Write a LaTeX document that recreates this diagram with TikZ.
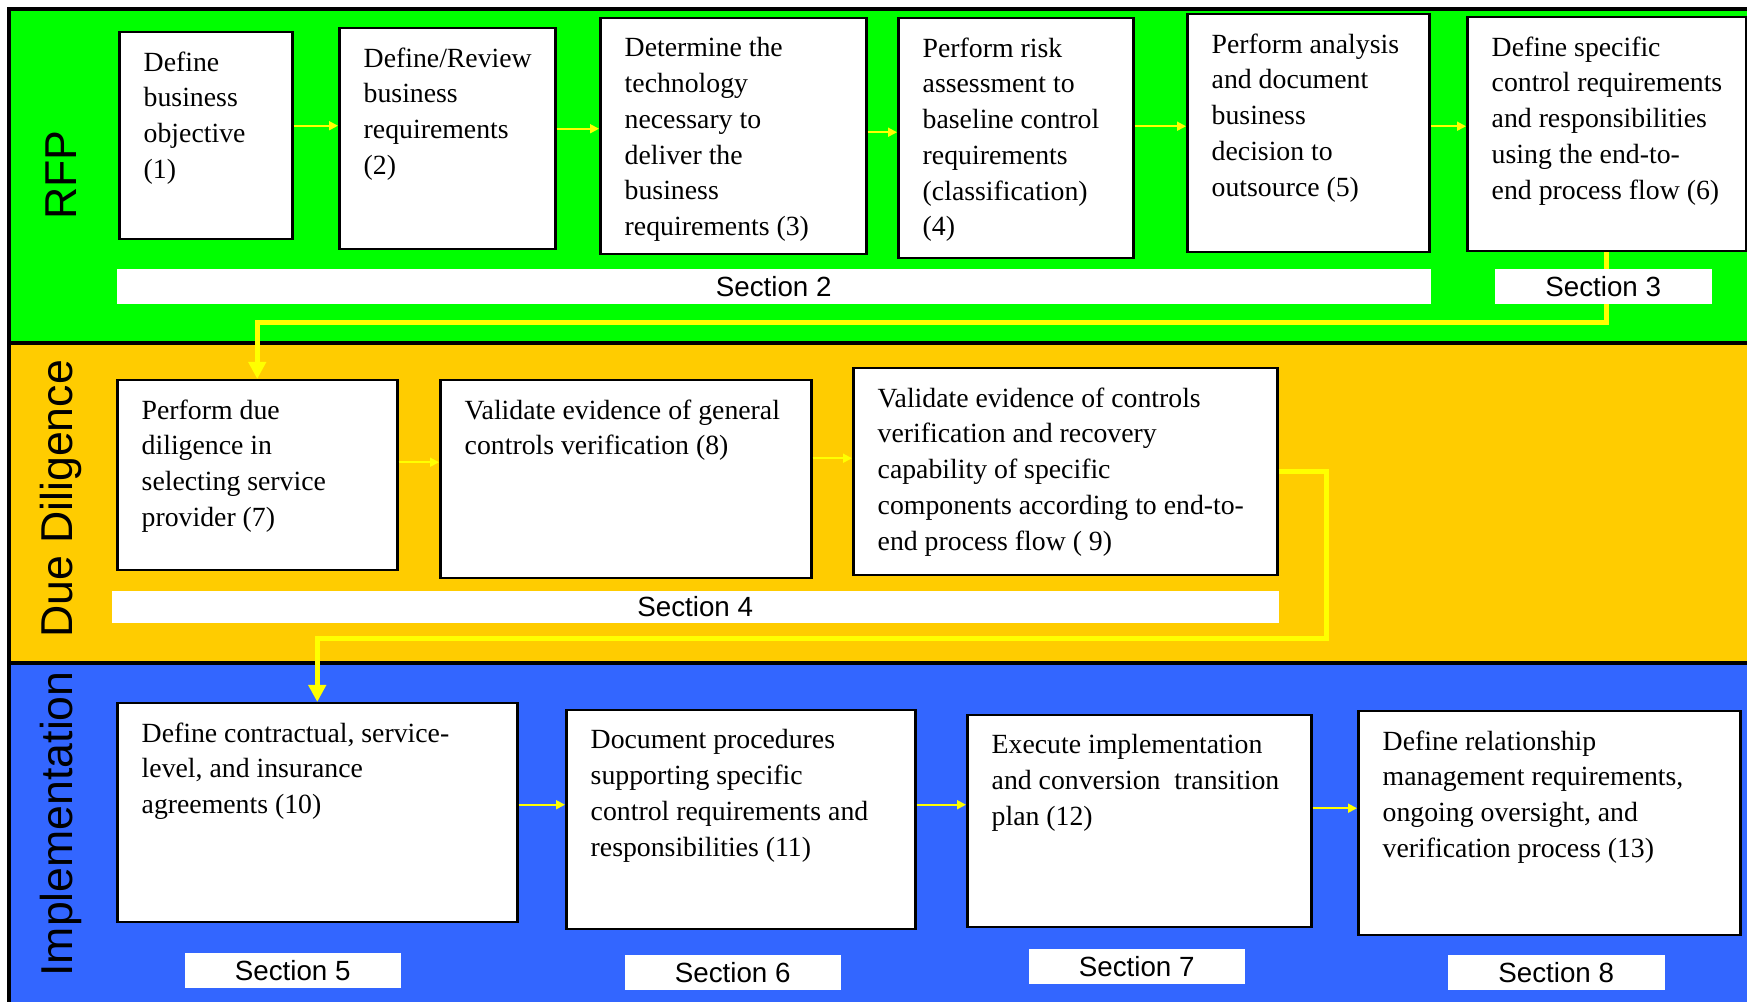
\documentclass[tikz,border=0pt]{standalone}
\usepackage{fontspec}
\setmainfont{Liberation Serif}
\setsansfont{Liberation Sans}
\usetikzlibrary{arrows.meta,calc}

\definecolor{rfpgreen}{HTML}{00FF00}
\definecolor{ddgold}{HTML}{FFCC00}
\definecolor{implblue}{HTML}{3366FF}
\definecolor{flowyellow}{HTML}{FFFF00}

\begin{document}
\begin{tikzpicture}[
  x=0.1mm, y=-0.1mm,
  lane/.style={draw=black, line width=0.35mm},
  lanelbl/.style={rotate=90, inner sep=0pt,
    font=\sffamily\fontsize{12.7}{15}\selectfont},
  task/.style={
    rectangle, draw=black, line width=0.25mm, fill=white,
    anchor=north west, inner sep=0pt},
  tasktxt/.style={
    anchor=north west, align=left, inner sep=0pt,
    xshift=2.5mm, yshift=-2.0mm,
    font=\fontsize{7.9}{10.16}\selectfont},
  sect/.style={
    rectangle, fill=white, anchor=north west, inner sep=0pt,
    font=\sffamily\fontsize{7.9}{9.5}\selectfont},
  flow/.style={-{Triangle[length=0.9mm,width=0.9mm]}, line width=0.18mm, draw=flowyellow},
  bigflow/.style={-{Triangle[length=1.7mm,width=1.7mm]}, line width=0.5mm, draw=flowyellow},
]
\useasboundingbox (0,0) rectangle (1747,1002);

% ---- Swim lanes ----
\begin{scope}
  \clip (0,0) rectangle (1747,1002);
  \fill[rfpgreen] (9,9) rectangle (1760,343);
  \fill[ddgold] (9,343) rectangle (1760,663);
  \fill[implblue] (9,663) rectangle (1760,1010);
  \draw[lane] (1760,9) -- (9,9) -- (9,1010);
  \draw[lane] (9,343) -- (1760,343);
  \draw[lane] (9,663) -- (1760,663);
\end{scope}

\node[lanelbl] (rfp) at (61,175) {RFP};
\node[lanelbl] (dd) at (61,499) {Due Diligence};
\node[lanelbl] (impl) at (61,824) {Implementation};

% ---- RFP ----
\node[task, minimum width=17.3mm, minimum height=20.7mm] (b1) at (118,31) {};
\node[tasktxt] (b1txt) at (b1.north west) {Define\\business\\objective\\(1)};
\node[task, minimum width=21.6mm, minimum height=22.1mm] (b2) at (338,27) {};
\node[tasktxt] (b2txt) at (b2.north west) {Define/Review\\business\\requirements\\(2)};
\node[task, minimum width=26.6mm, minimum height=23.6mm] (b3) at (599,17) {};
\node[tasktxt] (b3txt) at (b3.north west)
  {Determine the\\technology\\necessary to\\deliver the\\business\\requirements (3)};
\node[task, minimum width=23.5mm, minimum height=24.0mm] (b4) at (897,17) {};
\node[tasktxt] (b4txt) at (b4.north west)
  {Perform risk\\assessment to\\baseline control\\requirements\\(classification)\\(4)};
\node[task, minimum width=24.2mm, minimum height=23.8mm] (b5) at (1186,13) {};
\node[tasktxt] (b5txt) at (b5.north west)
  {Perform analysis\\and document\\business\\decision to\\outsource (5)};
\node[task, minimum width=27.9mm, minimum height=23.4mm] (b6) at (1466,16) {};
\node[tasktxt] (b6txt) at (b6.north west)
  {Define specific\\control requirements\\and responsibilities\\using the end-to-\\end process flow (6)};

% ---- Due Diligence ----
\node[task, minimum width=28.0mm, minimum height=19.0mm] (b7) at (116,379) {};
\node[tasktxt] (b7txt) at (b7.north west)
  {Perform due\\diligence in\\selecting service\\provider (7)};
\node[task, minimum width=37.1mm, minimum height=19.8mm] (b8) at (439,379) {};
\node[tasktxt] (b8txt) at (b8.north west)
  {Validate evidence of general\\controls verification (8)};
\node[task, minimum width=42.4mm, minimum height=20.7mm] (b9) at (852,367) {};
\node[tasktxt] (b9txt) at (b9.north west)
  {Validate evidence of controls\\verification and recovery\\capability of specific\\components according to end-to-\\end process flow ( 9)};

% ---- Implementation ----
\node[task, minimum width=40.0mm, minimum height=21.9mm] (b10) at (116,702) {};
\node[tasktxt] (b10txt) at (b10.north west)
  {Define contractual, service-\\level, and insurance\\agreements (10)};
\node[task, minimum width=34.9mm, minimum height=21.9mm] (b11) at (565,709) {};
\node[tasktxt] (b11txt) at (b11.north west)
  {Document procedures\\supporting specific\\control requirements and\\responsibilities (11)};
\node[task, minimum width=34.4mm, minimum height=21.2mm] (b12) at (966,714) {};
\node[tasktxt] (b12txt) at (b12.north west)
  {Execute implementation\\and conversion\ \ transition\\plan (12)};
\node[task, minimum width=38.2mm, minimum height=22.4mm] (b13) at (1357,710) {};
\node[tasktxt] (b13txt) at (b13.north west)
  {Define relationship\\management requirements,\\ongoing oversight, and\\verification process (13)};

% ---- Lane-to-lane connectors ----
\coordinate (turn1) at (1603,323);
\coordinate (turn2) at (1326,639);
\draw[bigflow] (b6.south) |- (turn1) -| (b7.north);
\draw[bigflow] (b9.east) -| (turn2) -| (b10.north);

% ---- Section bars ----
\node[sect, minimum width=131.4mm, minimum height=3.5mm] (s2) at (116,268) {Section 2};
\node[sect, minimum width=21.7mm, minimum height=3.5mm] (s3) at (1494,268) {Section 3};
\node[sect, minimum width=116.7mm, minimum height=3.2mm] (s4) at (111,590) {Section 4};
\node[sect, minimum width=21.6mm, minimum height=3.5mm] (s5) at (184,952) {Section 5};
\node[sect, minimum width=21.6mm, minimum height=3.5mm] (s6) at (624,954) {Section 6};
\node[sect, minimum width=21.6mm, minimum height=3.5mm] (s7) at (1028,948) {Section 7};
\node[sect, minimum width=21.7mm, minimum height=3.5mm] (s8) at (1447,954) {Section 8};

% ---- Step arrows ----
\draw[flow] ([yshift=1mm]b1.east) -- ([yshift=1mm]b1.east -| b2.west);
\draw[flow] ([yshift=1mm]b2.east) -- ([yshift=1mm]b2.east -| b3.west);
\draw[flow] ([yshift=0.4mm]b3.east) -- ([yshift=0.4mm]b3.east -| b4.west);
\draw[flow] ([yshift=1.2mm]b4.east) -- ([yshift=1.2mm]b4.east -| b5.west);
\draw[flow] ([yshift=0.7mm]b5.east) -- ([yshift=0.7mm]b5.east -| b6.west);
\draw[flow] ([yshift=1.3mm]b7.east) -- ([yshift=1.3mm]b7.east -| b8.west);
\draw[flow] ([yshift=2.1mm]b8.east) -- ([yshift=2.1mm]b8.east -| b9.west);
\draw[flow] ([yshift=0.8mm]b10.east) -- ([yshift=0.8mm]b10.east -| b11.west);
\draw[flow] ([yshift=1.5mm]b11.east) -- ([yshift=1.5mm]b11.east -| b12.west);
\draw[flow] ([yshift=1.3mm]b12.east) -- ([yshift=1.3mm]b12.east -| b13.west);

\end{tikzpicture}
\end{document}
